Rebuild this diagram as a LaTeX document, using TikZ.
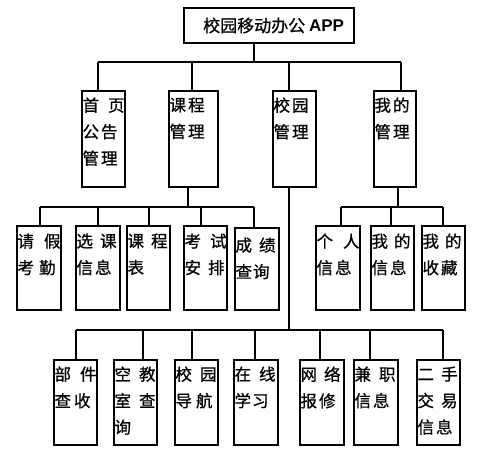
\documentclass[tikz,border=0pt]{standalone}
\usepackage{fontspec}
\newfontfamily\cjk[FakeBold=0.8]{Noto Sans CJK SC}
\newfontfamily\lat{Liberation Sans}
\usetikzlibrary{fit,calc}
\newcommand\gp[1]{\hspace{#1pt}}
\begin{document}
\begin{tikzpicture}[x=1pt,y=-1pt,
  box/.style={draw, line width=1.3pt, inner sep=0pt},
  lbl/.style={anchor=north west, inner xsep=1pt, inner ysep=7pt, align=left,
              font=\cjk\fontsize{16.5}{26.5}\selectfont},
  wire/.style={line width=1.3pt}]
\useasboundingbox (0,0) rectangle (493,457);
% root
\node[box, fit={(184,8)(354,43)}] (app) {};
\node[anchor=west, inner sep=0pt, font=\cjk\fontsize{17}{20}\selectfont] (appt) at (203,25.5) {校园移动办公 {\lat\bfseries APP}};
% level 1
\node[box, fit={(82,91)(125,187)}] (sy) {};
\node[box, fit={(169,91)(218,187)}] (kc) {};
\node[box, fit={(273,91)(316,187)}] (xy) {};
\node[box, fit={(374,91)(416,187)}] (wd) {};
\node[lbl] (syt) at (sy.north west) {首\gp{9}页\\公\gp{2}告\\管\gp{2}理};
\node[lbl] (kct) at (kc.north west) {课\gp{2}程\\管\gp{2}理};
\node[lbl] (xyt) at (xy.north west) {校\gp{2}园\\管\gp{2}理};
\node[lbl] (wdt) at (wd.north west) {我\gp{2}的\\管\gp{2}理};
% level 2
\node[box, fit={(17,226)(61,310)}] (qj) {};
\node[box, fit={(76,226)(120,310)}] (xk) {};
\node[box, fit={(127,226)(170,310)}] (kcb) {};
\node[box, fit={(184,226)(227,310)}] (ks) {};
\node[box, fit={(235,228)(279,310)}] (cj) {};
\node[box, fit={(316,226)(360,310)}] (gr) {};
\node[box, fit={(371,226)(414,310)}] (wx) {};
\node[box, fit={(422,226)(465,310)}] (sc) {};
\begin{scope}[lbl/.append style={inner ysep=8pt}]
\node[lbl] (qjt) at (qj.north west) {请\gp{10}假\\考\gp{5}勤};
\node[lbl] (xkt) at (xk.north west) {选\gp{7}课\\信\gp{2}息};
\node[lbl] (kcbt) at (kcb.north west) {课\gp{7}程\\表};
\node[lbl] (kst) at (ks.north west) {考\gp{9}试\\安\gp{7}排};
\node[lbl] (cjt) at ([yshift=-2pt]cj.north west) {成\gp{7}绩\\查\gp{1}询};
\node[lbl] (grt) at (gr.north west) {个\gp{10}人\\信\gp{2}息};
\node[lbl] (wxt) at (wx.north west) {我\gp{6}的\\信\gp{2}息};
\node[lbl] (sct) at (sc.north west) {我\gp{6}的\\收\gp{2}藏};
\end{scope}
% level 3
\node[box, fit={(54,360)(97,445)}] (yj) {};
\node[box, fit={(114,360)(157,445)}] (kj) {};
\node[box, fit={(175,360)(218,445)}] (dh) {};
\node[box, fit={(234,360)(278,445)}] (zx) {};
\node[box, fit={(300,360)(344,445)}] (wl) {};
\node[box, fit={(354,360)(398,445)}] (jz) {};
\node[box, fit={(417,360)(460,445)}] (es) {};
\node[lbl] (yjt) at (yj.north west) {部\gp{9}件\\查\gp{3}收};
\node[lbl] (kjt) at (kj.north west) {空\gp{8}教\\室\gp{8}查\\询};
\node[lbl] (dht) at (dh.north west) {校\gp{8}园\\导\gp{4}航};
\node[lbl] (zxt) at (zx.north west) {在\gp{8}线\\学\gp{1}习};
\node[lbl] (wlt) at (wl.north west) {网\gp{7}络\\报\gp{2}修};
\node[lbl] (jzt) at (jz.north west) {兼\gp{8}职\\信\gp{2}息};
\node[lbl] (est) at (es.north west) {二\gp{7}手\\交\gp{7}易\\信\gp{2}息};
% buses
\coordinate (bus1) at (0,62);
\coordinate (bus2) at (0,207);
\coordinate (bus3) at (0,330);
% root stem
\coordinate (app-b) at ([xshift=-15pt]app.south);
\draw[wire] (app-b) -- (app-b |- bus1);
\foreach \n/\s in {sy/-5.5, kc/-1.5, xy/-5.5, wd/6}
  \coordinate (\n-t) at ([xshift=\s pt]\n.north);
\foreach \n in {sy,kc,xy,wd}
  \draw[wire] (\n-t) -- (\n-t |- bus1);
\draw[wire] (sy-t |- bus1) -- (wd-t |- bus1);
% parent stems
\coordinate (kc-b) at ([xshift=-5.5pt]kc.south);
\coordinate (xy-b) at ([xshift=-5.5pt]xy.south);
\coordinate (wd-b) at ([xshift=3pt]wd.south);
\draw[wire] (kc-b) -- (kc-b |- bus2);
\draw[wire] (wd-b) -- (wd-b |- bus2);
\draw[wire] (xy-b) -- (xy-b |- bus3);
% level 2 stems
\foreach \n/\s in {qj/1, xk/0, kcb/0.5, ks/-4.5, cj/-3, gr/3, wx/-1.5, sc/-0.5}
  \coordinate (\n-t) at ([xshift=\s pt]\n.north);
\foreach \n in {qj,xk,kcb,ks,gr,wx,sc}
  \draw[wire] (\n-t) -- (\n-t |- bus2);
\draw[wire] ([yshift=-2pt]cj-t) -- (cj-t |- bus2);
\draw[wire] (qj-t |- bus2) -- (cj-t |- bus2);
\draw[wire] (gr-t |- bus2) -- (sc-t |- bus2);
% level 3 stems
\foreach \n/\s in {yj/0.5, kj/7.5, dh/-4.5, zx/-1, wl/-2, jz/-6, es/4.5}
  \coordinate (\n-t) at ([xshift=\s pt]\n.north);
\foreach \n in {yj,kj,dh,zx,wl,jz,es}
  \draw[wire] (\n-t) -- (\n-t |- bus3);
\draw[wire] (yj-t |- bus3) -- (es-t |- bus3);
\end{tikzpicture}
\end{document}
